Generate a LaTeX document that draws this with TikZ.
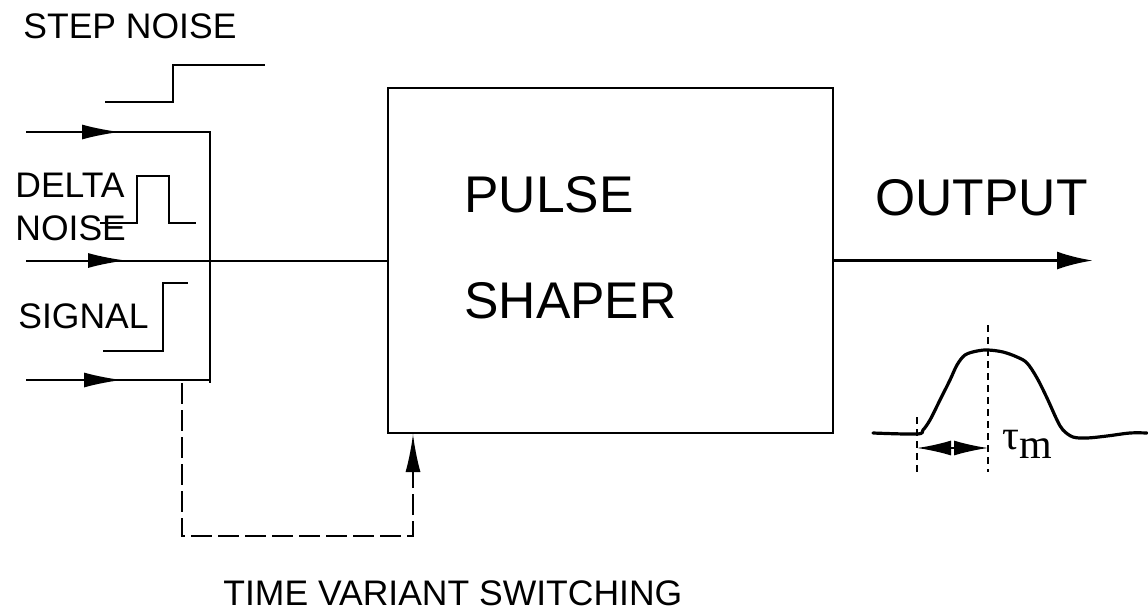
\documentclass[tikz,border=0pt]{standalone}
\usepackage{fontspec}
\setmainfont{Liberation Sans}
\newfontfamily\serifgreek{Liberation Serif}
\usetikzlibrary{arrows.meta}

\tikzset{
  wire/.style={line width=1pt},
  feed/.style={wire,-{Latex[length=19pt,width=7.5pt]}},
  outwire/.style={line width=1.5pt,-{Latex[length=18pt,width=9pt]}},
  switchline/.style={line width=0.8pt,dash pattern=on 10.5pt off 3pt},
  tick/.style={line width=0.6pt,dash pattern=on 3.5pt off 2.5pt},
  span/.style={line width=0.8pt,{Latex[length=17pt,width=7.5pt]}-{Latex[length=17pt,width=7.5pt]}},
  pulse/.style={line width=1.6pt,line cap=round},
  txt/.style={anchor=base west,inner sep=0pt,font=\fontsize{17.75}{20}\selectfont},
  bigtxt/.style={anchor=base west,inner sep=0pt,font=\fontsize{25.8}{30}\selectfont}
}

\begin{document}
\begin{tikzpicture}[x=0.5pt,y=0.5pt,yscale=-1,xscale=1]
		\useasboundingbox (0,0) rectangle (1148,612);
		
		%Shape: Rectangle
		\node [draw,wire,minimum width=222.5pt,minimum height=172.5pt,inner sep=0pt] (shaper) at (610.5,260.5) {};
		
		% bus and input ends
		\coordinate (in1) at (26,132);
		\coordinate (in2) at (26,260.5);
		\coordinate (in3) at (26,380);
		\coordinate (bustop) at (210,132);
		\coordinate (busmid) at (210,260.5);
		\coordinate (busbot) at (210,383);
		
		%Straight Lines
		\draw [wire] (in1) -- (bustop) -- (busbot) ;
		\draw [feed] (in1) -- ++(94,0) ;
		\draw [wire] (in2) -- (busmid) -- (shaper.west) ;
		\draw [feed] (in2) -- ++(100,0) ;
		\draw [wire] (in3) -- (in3 -| busbot) ;
		\draw [feed] (in3) -- ++(96,0) ;
		
		%Straight Lines: step noise
		\draw [wire] (105,102) -- (173,102) -- (173,65) -- (265,65) ;
		%Straight Lines: delta noise
		\draw [wire] (100,223) -- (137,223) -- (137,176) -- (169,176) -- (169,223) -- (196,223) ;
		%Straight Lines: signal
		\draw [wire] (103,351) -- (163,351) -- (163,283) -- (188,283) ;
		
		%Straight Lines: switching path
		\coordinate (swtap) at (182,383);
		\coordinate (swleft) at (182,536);
		\coordinate (swright) at (413,536);
		\draw [switchline] (swtap) -- (swleft) -- (swright) -- (swright |- shaper.south) ;
		\draw [feed] (413,475) -- (swright |- shaper.south) ;
		
		%Straight Lines: output
		\coordinate (outend) at (1093,260.5);
		\draw [outwire] (shaper.east) -- (outend) ;
		
		%Curve: output pulse
		\draw [pulse] plot [smooth,tension=0.55] coordinates {(873,433) (917,434) (923,430) (930,420) (940,400) (950,380) (957,365) (965,355) (977,351) (988,350) (1003,352) (1017,357) (1027,363) (1037,378) (1047,398) (1057,420) (1063,430) (1073,437) (1087,438) (1107,436) (1130,433) (1147,433)} ;
		\draw [tick] (917,417) -- (917,472) ;
		\draw [tick] (988,325) -- (988,472) ;
		\draw [span] (917,448) -- (988,448) ;
		
		% Text Node
		\node [txt] (stepnoise) at (23,38) {STEP NOISE};
		% Text Node
		\node [txt] (delta) at (15,197) {DELTA};
		% Text Node
		\node [txt] (deltanoise) at (15,240) {NOISE};
		% Text Node
		\node [txt] (signal) at (18,328) {SIGNAL};
		% Text Node
		\node [bigtxt] (pulsetxt) at (464,212) {PULSE};
		% Text Node
		\node [bigtxt] (shapertxt) at (464,318) {SHAPER};
		% Text Node
		\node [bigtxt] (output) at (875,215) {OUTPUT};
		% Text Node
		\node [txt] (switching) at (223,605) {TIME VARIANT SWITCHING};
		% Text Node
		\node [anchor=base west,inner sep=0pt,font=\serifgreek\fontsize{21}{24}\selectfont] (taum) at (1002,449) {τ\raisebox{-4.5pt}{m}};
\end{tikzpicture}
\end{document}
